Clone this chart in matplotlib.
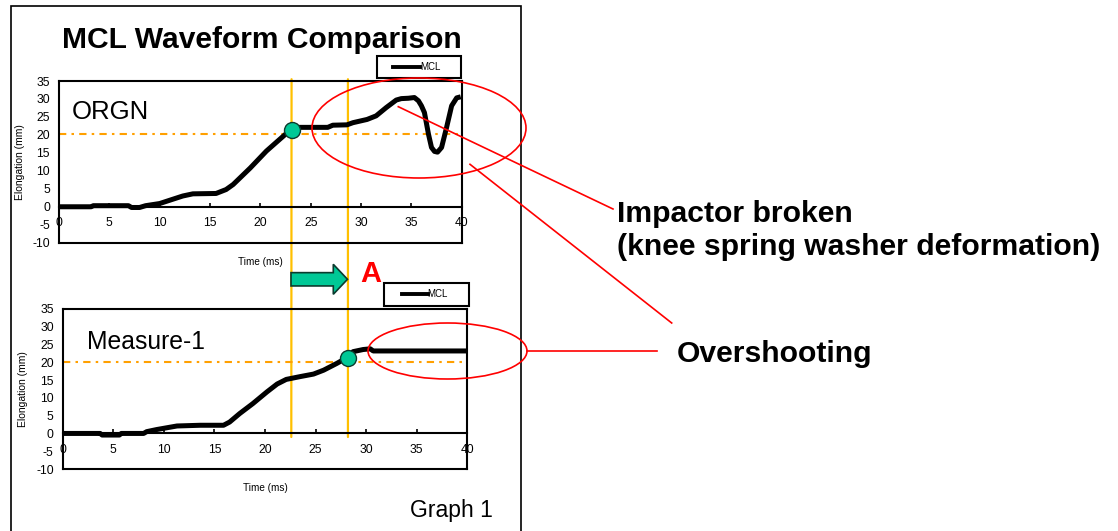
import numpy as np
import matplotlib
matplotlib.use("Agg")
import matplotlib.pyplot as plt
from matplotlib.patches import Rectangle, Ellipse, FancyArrow, ConnectionPatch
from matplotlib.lines import Line2D

plt.rcParams['font.family'] = ['Liberation Sans', 'DejaVu Sans']
plt.rcParams['axes.unicode_minus'] = False

# ---- data ----
# ORGN waveform (time ms, elongation mm)
orgn_t = [0, 3.2, 3.4, 6.9, 7.2, 8.0, 8.6, 10.0, 11.2, 12.3, 13.3, 15.6, 16.6, 17.3, 19.0,
          20.6, 22.3, 23.0, 23.9, 26.7, 27.2, 28.6, 29.2, 30.6, 31.5, 32.5, 33.5, 34.0,
          34.7, 35.3, 35.7, 36.0, 36.3, 36.7, 37.0, 37.3, 37.6, 38.0, 38.5, 39.0, 39.5, 39.9]
orgn_y = [0, 0, 0.3, 0.3, -0.2, -0.2, 0.3, 0.9, 2.0, 3.0, 3.6, 3.7, 4.8, 6.2, 10.8,
          15.5, 19.7, 21.4, 22.1, 22.1, 22.7, 22.8, 23.4, 24.3, 25.3, 27.6, 29.7, 30.1,
          30.2, 30.4, 29.5, 28.1, 26.2, 20.2, 16.5, 15.4, 15.2, 16.5, 22.1, 28.1, 30.3, 30.6]

# Measure-1 waveform
meas_t = [0, 3.7, 3.9, 5.6, 5.8, 8.0, 8.3, 9.3, 10.3, 11.3, 13.6, 15.9, 16.5, 17.5, 18.8,
          20.2, 21.2, 22.1, 23.5, 24.8, 25.8, 27.1, 28.1, 28.7, 29.7, 30.4, 30.7, 40.0]
meas_y = [0, 0, -0.45, -0.45, 0, 0, 0.5, 1.1, 1.6, 2.1, 2.3, 2.3, 3.2, 5.6, 8.4,
          11.7, 13.9, 15.2, 16.0, 16.7, 17.8, 19.7, 21.3, 23.0, 23.6, 23.8, 23.2, 23.2]

# threshold levels (orange dash-dot) and crossing points (green dots)
thresholds = [20.3, 20.0]
cross_t = [23.1, 28.2]
cross_y = [21.5, 21.3]
# guide times (yellow lines) on top / bottom axes
guide_t_top = [23.1, 28.7]
guide_t_bot = [22.6, 28.2]

panel_names = ["ORGN", "Measure-1"]
xticks = np.arange(0, 45, 5)
yticks = np.arange(-10, 40, 5)

W, H = 1118, 531
fig = plt.figure(figsize=(W / 100, H / 100), dpi=100)


def fx(px):
    return px / W


def fy(py):
    return 1 - py / H


# outer frame
fig.patches.append(Rectangle((fx(11), fy(540)), fx(521) - fx(11), fy(6) - fy(540),
                             transform=fig.transFigure, fill=False, ec='black', lw=1.2))

ax1 = fig.add_axes([fx(59), fy(242.7), fx(461.7) - fx(59), fy(81) - fy(242.7)])
ax2 = fig.add_axes([fx(62.7), fy(469), fx(467.3) - fx(62.7), fy(309) - fy(469)])

series = [(orgn_t, orgn_y), (meas_t, meas_y)]
for i, ax in enumerate([ax1, ax2]):
    t, y = series[i]
    ax.set_facecolor('none')
    ax.set_xlim(0, 40)
    ax.set_ylim(-10, 35)
    ax.axhline(thresholds[i], color='#FFA000', lw=1.5, dashes=(3.5, 2.5, 1.2, 2.5), zorder=2)
    ax.plot(t, y, color='black', lw=3.6, solid_capstyle='butt', zorder=3)
    ax.plot(cross_t[i], cross_y[i], 'o', ms=11.5, mfc='#00C896', mec='#0B3B2E', mew=1.0, zorder=5)
    for s in ax.spines.values():
        s.set_linewidth(1.5)
    ax.set_xticks([])
    ax.set_yticks(yticks)
    ax.tick_params(axis='y', length=0, pad=6.5, labelsize=8.7)
    sec = ax.secondary_xaxis(10 / 45)
    sec.set_xticks(xticks)
    sec.tick_params(axis='x', direction='in', length=3, width=1.2, pad=7.5, labelsize=8.7)
    sec.spines['bottom'].set_linewidth(1.5)
    ax.set_ylabel("Elongation (mm)", fontsize=7.5)
    ax.yaxis.set_label_coords(-0.085, 0.5)
    ax.set_xlabel("Time (ms)", fontsize=7.2)

ax1.xaxis.set_label_coords(0.5, -0.09)
ax2.xaxis.set_label_coords(0.5, -0.09)

# yellow guide lines spanning both panels (behind the curves)
for tt, tb in zip(guide_t_top, guide_t_bot):
    con = ConnectionPatch(xyA=(tt, 35.5), coordsA=ax1.transData,
                          xyB=(tb, -1.0), coordsB=ax2.transData,
                          color='#FFC000', lw=1.6, zorder=-1)
    fig.add_artist(con)

# legends drawn as small boxes above each panel
for (x0, y0, x1, y1, lx0, lx1, ly) in [(376.7, 55.7, 461, 78.3, 393, 420, 66.7),
                                       (384, 282.7, 469, 306, 402, 427.7, 294)]:
    fig.patches.append(Rectangle((fx(x0), fy(y1)), fx(x1) - fx(x0), fy(y0) - fy(y1),
                                 transform=fig.transFigure, fill=True, fc='white',
                                 ec='black', lw=1.5))
    fig.lines.append(Line2D([fx(lx0), fx(lx1)], [fy(ly), fy(ly)], transform=fig.transFigure,
                            color='black', lw=2.8))
    fig.text(fx(lx1), fy(ly), "MCL", fontsize=7, va='center', ha='left')

# texts
fig.text(fx(262), fy(48.3), "MCL Waveform Comparison", fontsize=21.6, fontweight='bold',
         ha='center', va='baseline')
fig.text(fx(72), fy(119), panel_names[0], fontsize=18.5, va='baseline')
fig.text(fx(87.3), fy(349), panel_names[1], fontsize=17.8, va='baseline')
fig.text(fx(410), fy(516.7), "Graph 1", fontsize=16.5, va='baseline')
fig.text(fx(360), fy(282.3), "A", fontsize=21, fontweight='bold', color='red', va='baseline')
fig.text(fx(617), fy(221.7), "Impactor broken", fontsize=21.7, fontweight='bold', va='baseline')
fig.text(fx(617), fy(255), "(knee spring washer deformation)", fontsize=21.7,
         fontweight='bold', va='baseline')
fig.text(fx(677), fy(361.7), "Overshooting", fontsize=21.7, fontweight='bold', va='baseline')

# green arrow
fig.patches.append(FancyArrow(fx(291), fy(279.3), fx(347.5) - fx(291), 0,
                              width=(fy(272.7) - fy(286)), head_width=(fy(264.3) - fy(294.3)),
                              head_length=fx(347.5) - fx(333.3), length_includes_head=True,
                              transform=fig.transFigure, fc='#00C896', ec='#0B3B2E', lw=1.2,
                              zorder=8))

# red ellipses and callout lines
for (cx, cy, w, h) in [(419, 128, 214, 100), (447.5, 351, 159, 56)]:
    fig.patches.append(Ellipse((fx(cx), fy(cy)), fx(w), fy(0) - fy(h), transform=fig.transFigure,
                               fill=False, ec='red', lw=1.2, zorder=9))
for (xa, ya, xb, yb) in [(398.3, 106.7, 613, 209), (470, 164.3, 671.7, 323), (527, 351, 657, 351)]:
    fig.lines.append(Line2D([fx(xa), fx(xb)], [fy(ya), fy(yb)], transform=fig.transFigure,
                            color='red', lw=1.2, zorder=9))

fig.savefig("out.png", dpi=100)
